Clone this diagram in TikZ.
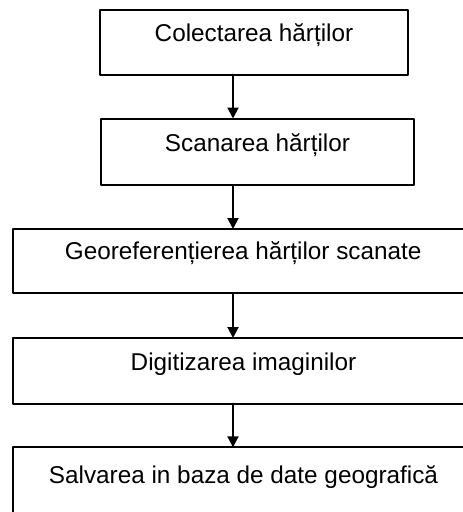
\documentclass[tikz,border=0pt]{standalone}
\usepackage{fontspec}
\setmainfont{Liberation Sans}
\usepackage{tikz}
\usetikzlibrary{arrows.meta}
\usetikzlibrary{positioning}
\tikzset{
  stepbox/.style={draw=black, line width=2pt, rectangle, outer sep=0pt, inner ysep=0pt,
    font=\fontsize{24.3pt}{28pt}\selectfont, anchor=north west},
  flow/.style={-{Triangle[length=11pt, width=11pt]}, line width=2pt}
}

\begin{document}
\begin{tikzpicture}[line cap=round,line join=round, x=1pt,y=-1pt]
  \useasboundingbox (0,0) rectangle (463,512);
  \clip (0,0) rectangle (463,512);
  % Schritte
  \node[stepbox, minimum width=308pt, text height=31pt, text depth=33.5pt] (colectare) at (100,10) {Colectarea hărților};
  \node[stepbox, minimum width=313pt, text height=32.5pt, text depth=34pt] (scanare) at (101,118.5) {Scanarea hărților};
  \node[stepbox, minimum width=461pt, text height=30pt, text depth=34.3pt] (georef) at (12.7,229) {Georeferențierea hărților scanate};
  \node[stepbox, minimum width=461pt, text height=32.7pt, text depth=32.8pt] (digit) at (13,338) {Digitizarea imaginilor};
  \node[stepbox, minimum width=461pt, text height=36.2pt, text depth=40pt] (salvare) at (13,447.3) {Salvarea in baza de date geografică};
  \coordinate (axa) at (233,0);
  \foreach \a/\b in {colectare/scanare, scanare/georef, georef/digit, digit/salvare}
    \draw[flow] (axa |- \a.south) -- (axa |- \b.north);
\end{tikzpicture}
\end{document}
